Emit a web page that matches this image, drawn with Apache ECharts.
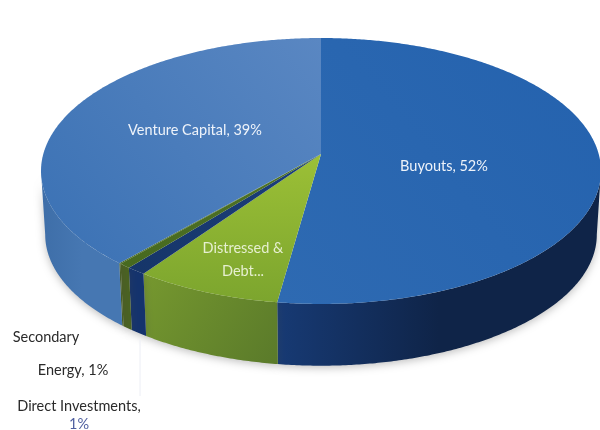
<!DOCTYPE html>
<html>
<head>
<meta charset="utf-8">
<style>
  html, body { margin: 0; padding: 0; background: #fff; }
  #chart { width: 600px; height: 430px; }
</style>
<script src="https://cdn.jsdelivr.net/npm/echarts@6/dist/echarts.min.js"></script>
</head>
<body>
<div id="chart"></div>
<script>
// clockwise from 12 o'clock
const categories = ['Buyouts', 'Distressed & Debt', 'Direct Investments', 'Energy', 'Secondary', 'Venture Capital']
const shares = [52.2, 7.5, 1, 0.6, 0.1, 38.6]
const labelTexts = ['Buyouts, 52%', 'Distressed &\nDebt...', 'Direct Investments,', 'Energy, 1%', 'Secondary', 'Venture Capital, 39%']

const topColors = [
  ['#2462ae', '#2e6ab2'],
  ['#9cc036', '#7ca52e'],
  ['#1b3f7c', '#163568'],
  ['#4f7328', '#47691f'],
  ['#4f7328', '#47691f'],
  ['#5a87c2', '#3a71b4']
]
const wallColors = [
  ['#173a74', '#0f2448'],
  ['#76982f', '#5a7a2a'],
  ['#14336d', '#14336d'],
  ['#4a6221', '#4a6221'],
  ['#4a6221', '#4a6221'],
  ['#3e6ea8', '#4677b2']
]

// perspective disc, the hub sits above the middle of the ellipse
const hubX = 321
const hubY = 154
const radX = 277.7
const radY = 130.8
const tilt = 0.1277
const depth = 64
const floorScale = 0.985
// where the rim turns away from the viewer
const wallFrom = 180 - Math.acos(tilt) * 180 / Math.PI
const wallTo = 360 - wallFrom

function rimPoint(deg, scale, drop) {
  const a = deg * Math.PI / 180
  const u = Math.sin(a)
  const v = -Math.cos(a)
  const w = 1 - tilt * v
  return [hubX + scale * radX * u / w, hubY + drop + scale * radY * v / w]
}

// value -> [startDeg, endDeg]
const total = shares.reduce((s, v) => s + v, 0)
let acc = 0
const sliceData = shares.map(v => {
  const item = [acc / total * 360, (acc + v) / total * 360]
  acc += v
  return item
})

function arc(from, to, scale, drop) {
  const pts = []
  const n = Math.max(2, Math.ceil(Math.abs(to - from) * 2))
  for (let i = 0; i <= n; i++) {
    pts.push(rimPoint(from + (to - from) * i / n, scale, drop))
  }
  return pts
}

function grad(pair, x0, y0, x1, y1) {
  return new echarts.graphic.LinearGradient(x0, y0, x1, y1, [
    { offset: 0, color: pair[0] },
    { offset: 1, color: pair[1] }
  ])
}

function renderWall(params, api) {
  const from = Math.max(api.value(0), wallFrom)
  const to = Math.min(api.value(1), wallTo)
  if (to <= from) return { type: 'group', children: [] }
  const pts = arc(from, to, 1, 0).concat(arc(to, from, floorScale, depth))
  const c = wallColors[params.dataIndex]
  return {
    type: 'polygon',
    shape: { points: pts },
    style: {
      fill: params.dataIndex === 1 ? grad(c, 0, 0, 1, 1) : grad(c, 0, 0, 0.5, 0),
      shadowBlur: 9,
      shadowColor: 'rgba(70,70,70,0.35)',
      shadowOffsetY: 2
    }
  }
}

function renderTop(params, api) {
  const i = params.dataIndex
  const pts = [[hubX, hubY]].concat(arc(api.value(0), api.value(1), 1, 0))
  return {
    type: 'polygon',
    shape: { points: pts },
    style: { fill: i === 1 ? grad(topColors[i], 0, 0, 0, 1) : grad(topColors[i], 1, 0, 0, 1) }
  }
}

function textEl(text, x, y, color) {
  return {
    type: 'text',
    x: x,
    y: y,
    z: 20,
    silent: true,
    style: {
      text: text,
      fill: color,
      font: '14.5px Lato, "Open Sans", sans-serif',
      textAlign: 'center',
      textVerticalAlign: 'middle',
      lineHeight: 23
    }
  }
}

const chart = echarts.init(document.getElementById('chart'), null, { renderer: 'canvas' })
chart.setOption({
  animation: false,
  backgroundColor: '#ffffff',
  series: [
    { type: 'custom', coordinateSystem: 'none', silent: true, z: 1, renderItem: renderWall, data: sliceData },
    { type: 'custom', coordinateSystem: 'none', silent: true, z: 2, renderItem: renderTop, data: sliceData }
  ],
  graphic: {
    elements: [
      // faint leader line under the small labels
      { type: 'line', z: 3, silent: true, shape: { x1: 140, y1: 340, x2: 140, y2: 396 }, style: { stroke: '#eceef5', lineWidth: 1 } },
      textEl(labelTexts[5], 195, 130, '#eef3fa'),
      textEl(labelTexts[0], 444, 166, '#eef3fa'),
      textEl(labelTexts[1], 243, 260, '#e6efd0'),
      textEl(labelTexts[4], 46, 337, '#2a2a2a'),
      textEl(labelTexts[3], 73, 370, '#2a2a2a'),
      textEl(labelTexts[2], 79, 406, '#2a2a2a'),
      textEl('1%', 79, 424, '#4f5f9f')
    ]
  }
})
</script>
</body>
</html>
